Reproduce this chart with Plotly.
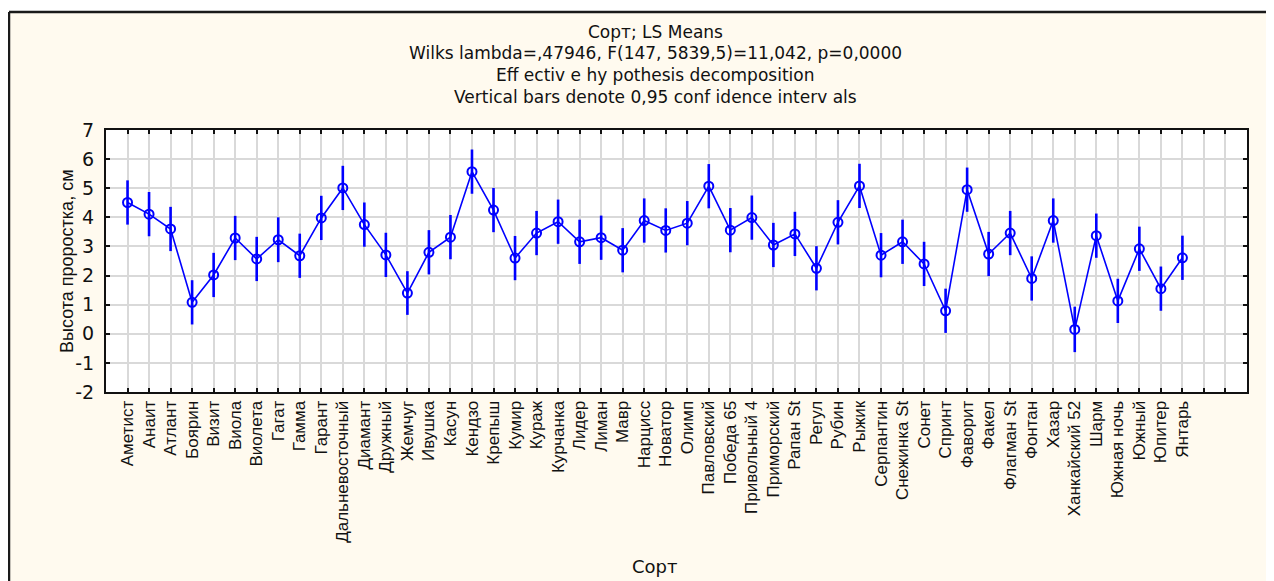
import plotly.graph_objects as go

# ---------------- data ----------------
names = ["Аметист", "Анаит", "Атлант", "Боярин", "Визит", "Виола", "Виолета", "Гагат",
         "Гамма", "Гарант", "Дальневосточный", "Диамант", "Дружный", "Жемчуг", "Ивушка",
         "Касун", "Кендзо", "Крепыш", "Кумир", "Кураж", "Курчанка", "Лидер", "Лиман",
         "Мавр", "Нарцисс", "Новатор", "Олимп", "Павловский", "Победа 65", "Привольный 4",
         "Приморский", "Рапан St", "Регул", "Рубин", "Рыжик", "Серпантин", "Снежинка St",
         "Сонет", "Спринт", "Фаворит", "Факел", "Флагман St", "Фонтан", "Хазар",
         "Ханкайский 52", "Шарм", "Южная ночь", "Южный", "Юпитер", "Янтарь"]
means = [4.51, 4.11, 3.60, 1.08, 2.02, 3.29, 2.57, 3.23, 2.68, 3.98,
         5.01, 3.75, 2.71, 1.40, 2.80, 3.32, 5.57, 4.25, 2.60, 3.46,
         3.85, 3.16, 3.30, 2.87, 3.89, 3.55, 3.80, 5.07, 3.56, 3.99,
         3.05, 3.43, 2.25, 3.83, 5.08, 2.70, 3.16, 2.40, 0.79, 4.95,
         2.74, 3.46, 1.90, 3.89, 0.15, 3.37, 1.13, 2.92, 1.55, 2.61]
ci95 = [0.76, 0.76, 0.76, 0.76, 0.76, 0.76, 0.76, 0.77, 0.76, 0.76,
        0.76, 0.76, 0.76, 0.75, 0.76, 0.76, 0.76, 0.76, 0.76, 0.76,
        0.76, 0.76, 0.76, 0.76, 0.76, 0.76, 0.76, 0.76, 0.76, 0.76,
        0.76, 0.76, 0.76, 0.76, 0.76, 0.76, 0.76, 0.76, 0.76, 0.76,
        0.76, 0.76, 0.76, 0.76, 0.78, 0.76, 0.76, 0.76, 0.76, 0.76]
extra_slots = ["", ""]
y_ticks = [7, 6, 5, 4, 3, 2, 1, 0, -1, -2]
y_ticklabels = ["7", "6", "5", "4", "3", "2", "1", "0", "-1", "-2"]

title_lines = ["Сорт; LS Means",
               "Wilks lambda=,47946, F(147, 5839,5)=11,042, p=0,0000",
               "Eff ectiv e hy pothesis decomposition",
               "Vertical bars denote 0,95 conf idence interv als"]
x_title = "Сорт"
y_title = "Высота проростка, см"

# ---------------- layout geometry ----------------
W, H = 1266, 573
L, R, T, B = 98, 27, 122, 189
pw, ph = W - L - R, H - T - B


def px(x):
    return (x - L) / pw


def py(y):
    return 1 - (y - T) / ph


BLUE = "#0000ff"
BEIGE = "#fffaef"
GRID = "#d9d9d9"
LABEL_FONT = "Liberation Sans, Arial, sans-serif"

x_idx = list(range(len(names)))

fig = go.Figure(go.Scatter(
    x=x_idx, y=means, mode="lines+markers",
    line=dict(color=BLUE, width=1.6),
    marker=dict(symbol="circle-open", size=9, color=BLUE, line=dict(width=2, color=BLUE)),
    error_y=dict(type="data", array=ci95, color=BLUE, thickness=2.6, width=0),
    showlegend=False,
))

all_ticks = list(range(len(names) + len(extra_slots)))
fig.update_xaxes(
    range=[-1, len(all_ticks)], tickmode="array", tickvals=all_ticks,
    ticktext=names + extra_slots, tickangle=-90,
    tickfont=dict(family=LABEL_FONT, size=17, color="#111"),
    showgrid=True, gridcolor=GRID, gridwidth=1.5, zeroline=False,
    showline=True, linecolor="#111", linewidth=2, mirror="ticks",
    ticks="inside", ticklen=4, tickwidth=1.5, tickcolor="#111",
)
fig.update_yaxes(
    range=[-2, 7], tickmode="array", tickvals=y_ticks, ticktext=y_ticklabels,
    tickfont=dict(family="DejaVu Sans", size=19, color="#111"),
    showgrid=True, gridcolor=GRID, gridwidth=1.5, zeroline=False,
    showline=True, linecolor="#111", linewidth=2, mirror="ticks",
    ticks="inside", ticklen=4, tickwidth=1.5, tickcolor="#111", ticklabelstandoff=6,
)

annotations = []
title_y = [24, 45.5, 67, 88.5]
for txt, yy in zip(title_lines, title_y):
    annotations.append(dict(text=txt, xref="paper", yref="paper", x=px(647), y=py(yy),
                            xanchor="center", yanchor="middle", showarrow=False,
                            font=dict(family="DejaVu Sans", size=17, color="#111")))
annotations.append(dict(text=x_title, xref="paper", yref="paper", x=px(647), y=py(558),
                        xanchor="center", yanchor="middle", showarrow=False,
                        font=dict(family="DejaVu Sans", size=18, color="#111")))
annotations.append(dict(text=y_title, xref="paper", yref="paper", x=px(59), y=py(253),
                        xanchor="center", yanchor="middle", showarrow=False, textangle=-90,
                        font=dict(family=LABEL_FONT, size=18, color="#111")))

shapes = [
    # white strip above frame
    dict(type="rect", xref="paper", yref="paper", x0=px(0), x1=px(W), y0=py(0), y1=py(4),
         fillcolor="white", line=dict(width=0), layer="below"),
    # frame top and left
    dict(type="line", xref="paper", yref="paper", x0=px(1), x1=px(W), y0=py(4), y1=py(4),
         line=dict(color="#1a1a1a", width=2.5)),
    dict(type="line", xref="paper", yref="paper", x0=px(1), x1=px(1), y0=py(4), y1=py(H),
         line=dict(color="#1a1a1a", width=2.5)),
]

fig.update_layout(
    width=W, height=H, margin=dict(l=L, r=R, t=T, b=B, autoexpand=False),
    paper_bgcolor=BEIGE, plot_bgcolor="white",
    annotations=annotations, shapes=shapes,
    font=dict(family="DejaVu Sans", color="#111"),
)

fig.write_html("out.html")
